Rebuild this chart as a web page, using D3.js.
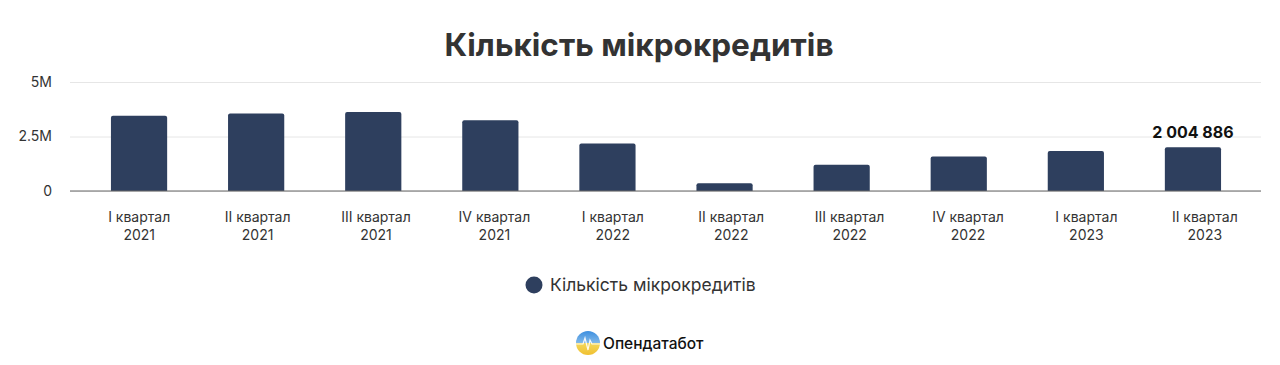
<!DOCTYPE html>
<html>
<head>
<meta charset="utf-8">
<script src="https://cdn.jsdelivr.net/npm/d3@7"></script>
<style>
  html, body { margin: 0; padding: 0; background: #ffffff; }
  svg { display: block; }
</style>
</head>
<body>
<script>
const categories = [
  ["I квартал", "2021"], ["II квартал", "2021"], ["III квартал", "2021"], ["IV квартал", "2021"],
  ["I квартал", "2022"], ["II квартал", "2022"], ["III квартал", "2022"], ["IV квартал", "2022"],
  ["I квартал", "2023"], ["II квартал", "2023"]
];
const values = [3450000, 3560000, 3620000, 3250000, 2180000, 350000, 1200000, 1580000, 1840000, 2004886];
const yTicks = [0, 2500000, 5000000];
const yTickLabels = ["0", "2.5M", "5M"];
const seriesName = "Кількість мікрокредитів";
const title = "Кількість мікрокредитів";
const annotatedIndex = 9;
const annotationText = "2 004 886";
const brand = "Опендатабот";

const W = 1280, H = 365;
const font = "Inter, 'Noto Sans', sans-serif";
const barColor = "#2e3f5e";
const textColor = "#333333";

const svg = d3.select("body").append("svg").attr("width", W).attr("height", H);
svg.append("rect").attr("width", W).attr("height", H).attr("fill", "#ffffff");

const defs = svg.append("defs");
const grad = defs.append("linearGradient").attr("id", "logoGrad").attr("x1", 0).attr("y1", 0).attr("x2", 0).attr("y2", 1);
grad.append("stop").attr("offset", "0%").attr("stop-color", "#3d8fe0");
grad.append("stop").attr("offset", "48%").attr("stop-color", "#7fb7e8");
grad.append("stop").attr("offset", "52%").attr("stop-color", "#f3d75a");
grad.append("stop").attr("offset", "100%").attr("stop-color", "#f0c030");

// Title
svg.append("text").attr("x", 639).attr("y", 56).attr("text-anchor", "middle")
  .attr("font-family", font).attr("font-weight", 700).attr("font-size", 31.5)
  .attr("fill", textColor).text(title);

const gridL = 70, gridR = 1261;
const x = d3.scaleBand().domain(d3.range(categories.length)).range([80.5, 1251.5]).paddingInner(0.52).paddingOuter(0.26);
const xLabel = d3.scaleBand().domain(d3.range(categories.length)).range([80, 1264]);
const y = d3.scaleLinear().domain([0, 5000000]).range([191, 82]);

// Gridlines
const yAxis = d3.axisLeft(y).tickValues(yTicks).tickSize(-(gridR - gridL)).tickFormat((d, i) => yTickLabels[i]);
const gy = svg.append("g").attr("transform", `translate(${gridL},0)`).call(yAxis);
gy.select(".domain").remove();
gy.selectAll(".tick line").attr("stroke", "#e6e6e6").attr("stroke-width", 1);
gy.selectAll(".tick text").attr("x", -18).attr("font-family", font).attr("font-size", 14).attr("fill", textColor);

// Bars
svg.append("g").selectAll("path").data(values).join("path")
  .attr("fill", barColor)
  .attr("d", (d, i) => {
    const x0 = x(i), w = x.bandwidth(), y0 = y(d), y1 = y(0), r = 2;
    return `M${x0},${y1}V${y0 + r}Q${x0},${y0} ${x0 + r},${y0}H${x0 + w - r}Q${x0 + w},${y0} ${x0 + w},${y0 + r}V${y1}Z`;
  });

// Baseline
svg.append("line").attr("x1", gridL).attr("x2", gridR).attr("y1", y(0)).attr("y2", y(0))
  .attr("stroke", "#666666").attr("stroke-width", 1.2);

// X axis labels
const xAxis = d3.axisBottom(xLabel).tickSize(0).tickFormat("");
const gx = svg.append("g").attr("transform", `translate(0,${y(0)})`).call(xAxis);
gx.select(".domain").remove();
gx.selectAll(".tick").each(function (d) {
  const t = d3.select(this).append("text").attr("text-anchor", "middle")
    .attr("font-family", font).attr("font-size", 14).attr("fill", textColor);
  t.append("tspan").attr("x", 0).attr("y", 31).text(categories[d][0]);
  t.append("tspan").attr("x", 0).attr("y", 49).text(categories[d][1]);
});

// Annotation
svg.append("text").attr("x", x(annotatedIndex) + x.bandwidth() / 2).attr("y", y(values[annotatedIndex]) - 9)
  .attr("text-anchor", "middle").attr("font-family", font).attr("font-weight", 700)
  .attr("font-size", 16).attr("fill", "#111111").text(annotationText);

// Legend
const lg = svg.append("g");
lg.append("circle").attr("cx", 534).attr("cy", 285).attr("r", 8.5).attr("fill", barColor);
lg.append("text").attr("x", 550).attr("y", 291).attr("font-family", font).attr("font-size", 17.5)
  .attr("fill", textColor).text(seriesName);

// Logo
const logo = svg.append("g");
logo.append("circle").attr("cx", 588).attr("cy", 343).attr("r", 12).attr("fill", "url(#logoGrad)");
logo.append("path").attr("d", "M576,344 L583,344 L585,338 L588,350 L590,340 L592,344 L600,344")
  .attr("fill", "none").attr("stroke", "#ffffff").attr("stroke-width", 1.2).attr("opacity", 0.9);
logo.append("text").attr("x", 603).attr("y", 349).attr("font-family", font).attr("font-weight", 500)
  .attr("font-size", 15.5).attr("fill", "#111111").text(brand);
</script>
</body>
</html>
